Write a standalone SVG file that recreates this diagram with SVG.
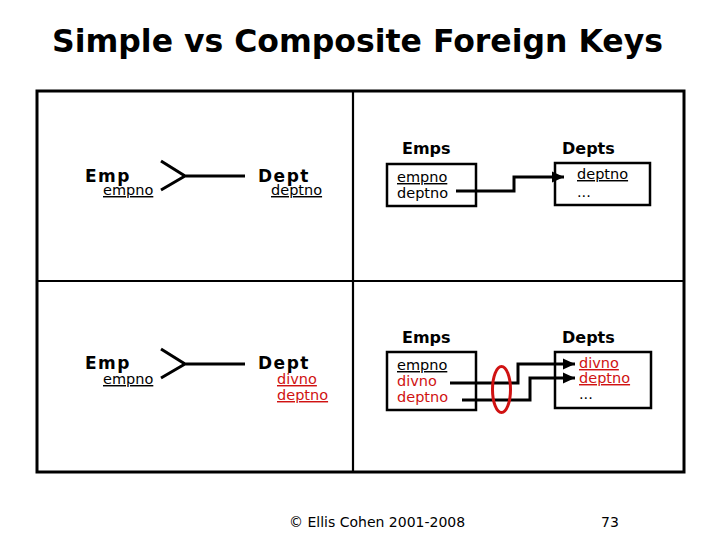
<svg xmlns="http://www.w3.org/2000/svg" width="720" height="540" viewBox="0 0 720 540">
<style>
.title{font-family:"DejaVu Sans",sans-serif;font-weight:bold;font-size:31.5px;fill:#000}
.ent{font-family:"DejaVu Sans",sans-serif;font-weight:bold;font-size:17px;letter-spacing:1.5px;fill:#000}
.tbl{font-family:"DejaVu Sans",sans-serif;font-weight:bold;font-size:16px;fill:#000}
.fld{font-family:"DejaVu Sans",sans-serif;font-size:14.5px;fill:#000}
.red{fill:#d01212}
.u{text-decoration:underline}
.foot{font-family:"DejaVu Sans",sans-serif;font-size:14px;fill:#000}
.box{fill:#fff;stroke:#000;stroke-width:2.5}
.frame{fill:none;stroke:#000;stroke-width:3}
.div{stroke:#000;stroke-width:2.2}
.crow{fill:none;stroke:#000;stroke-width:3;stroke-linecap:butt}
.conn{fill:none;stroke:#000;stroke-width:3;marker-end:url(#arr)}
</style>
<defs>
<marker id="arr" markerUnits="userSpaceOnUse" markerWidth="12" markerHeight="12" viewBox="0 0 12 12" refX="12" refY="6" orient="auto">
<path d="M0,0.5 L12,6 L0,11.5 Z" fill="#000"/>
</marker>
</defs>
<rect width="720" height="540" fill="#fff"/>
<text class="title" x="52" y="52">Simple vs Composite Foreign Keys</text>
<g id="frame">
<rect class="frame" x="37" y="91" width="647" height="381"/>
<line class="div" x1="353" y1="91" x2="353" y2="472"/>
<line class="div" x1="37" y1="281" x2="684" y2="281"/>
</g>
<g id="tl-emp">
<text class="ent" x="85" y="182">Emp</text>
<text class="fld u" x="103" y="195">empno</text>
</g>
<g id="tl-dept">
<text class="ent" x="258" y="182">Dept</text>
<text class="fld u" x="271" y="195">deptno</text>
</g>
<g id="bl-emp">
<text class="ent" x="85" y="369">Emp</text>
<text class="fld u" x="103" y="384">empno</text>
</g>
<g id="bl-dept">
<text class="ent" x="258" y="369">Dept</text>
<text class="fld red u" x="277" y="384">divno</text>
<text class="fld red u" x="277" y="400">deptno</text>
</g>
<g id="tr-emps">
<text class="tbl" x="402" y="154">Emps</text>
<rect class="box" x="387" y="164" width="89" height="42"/>
<text class="fld u" x="397" y="182">empno</text>
<text class="fld" x="397" y="198">deptno</text>
</g>
<g id="tr-depts">
<text class="tbl" x="562" y="154">Depts</text>
<rect class="box" x="555" y="163" width="95" height="42"/>
<text class="fld u" x="577" y="179">deptno</text>
<text class="fld" x="577" y="197">...</text>
</g>
<g id="br-emps">
<text class="tbl" x="402" y="343">Emps</text>
<rect class="box" x="387" y="352" width="89" height="58"/>
<text class="fld u" x="397" y="370">empno</text>
<text class="fld red" x="397" y="386">divno</text>
<text class="fld red" x="397" y="402">deptno</text>
</g>
<g id="br-depts">
<text class="tbl" x="562" y="343">Depts</text>
<rect class="box" x="555" y="352" width="96" height="56"/>
<text class="fld red u" x="579" y="368">divno</text>
<text class="fld red u" x="579" y="383">deptno</text>
<text class="fld" x="579" y="399">...</text>
</g>
<g id="connectors">
<path class="crow" d="M161,161 L185,176 L161,190 M185,176 H245"/>
<path class="crow" d="M161,349 L185,364 L161,378 M185,364 H245"/>
<path class="conn" d="M456,191 H514 V177 H564"/>
<path class="conn" d="M450,383 H518 V364 H575"/>
<path class="conn" d="M462,400 H530 V378 H575"/>
<ellipse cx="501.5" cy="389.5" rx="9" ry="23" fill="none" stroke="#d01212" stroke-width="3"/>
</g>
<text class="foot" x="289" y="527">© Ellis Cohen 2001-2008</text>
<text class="foot" x="601" y="527" font-size="13">73</text>
</svg>
